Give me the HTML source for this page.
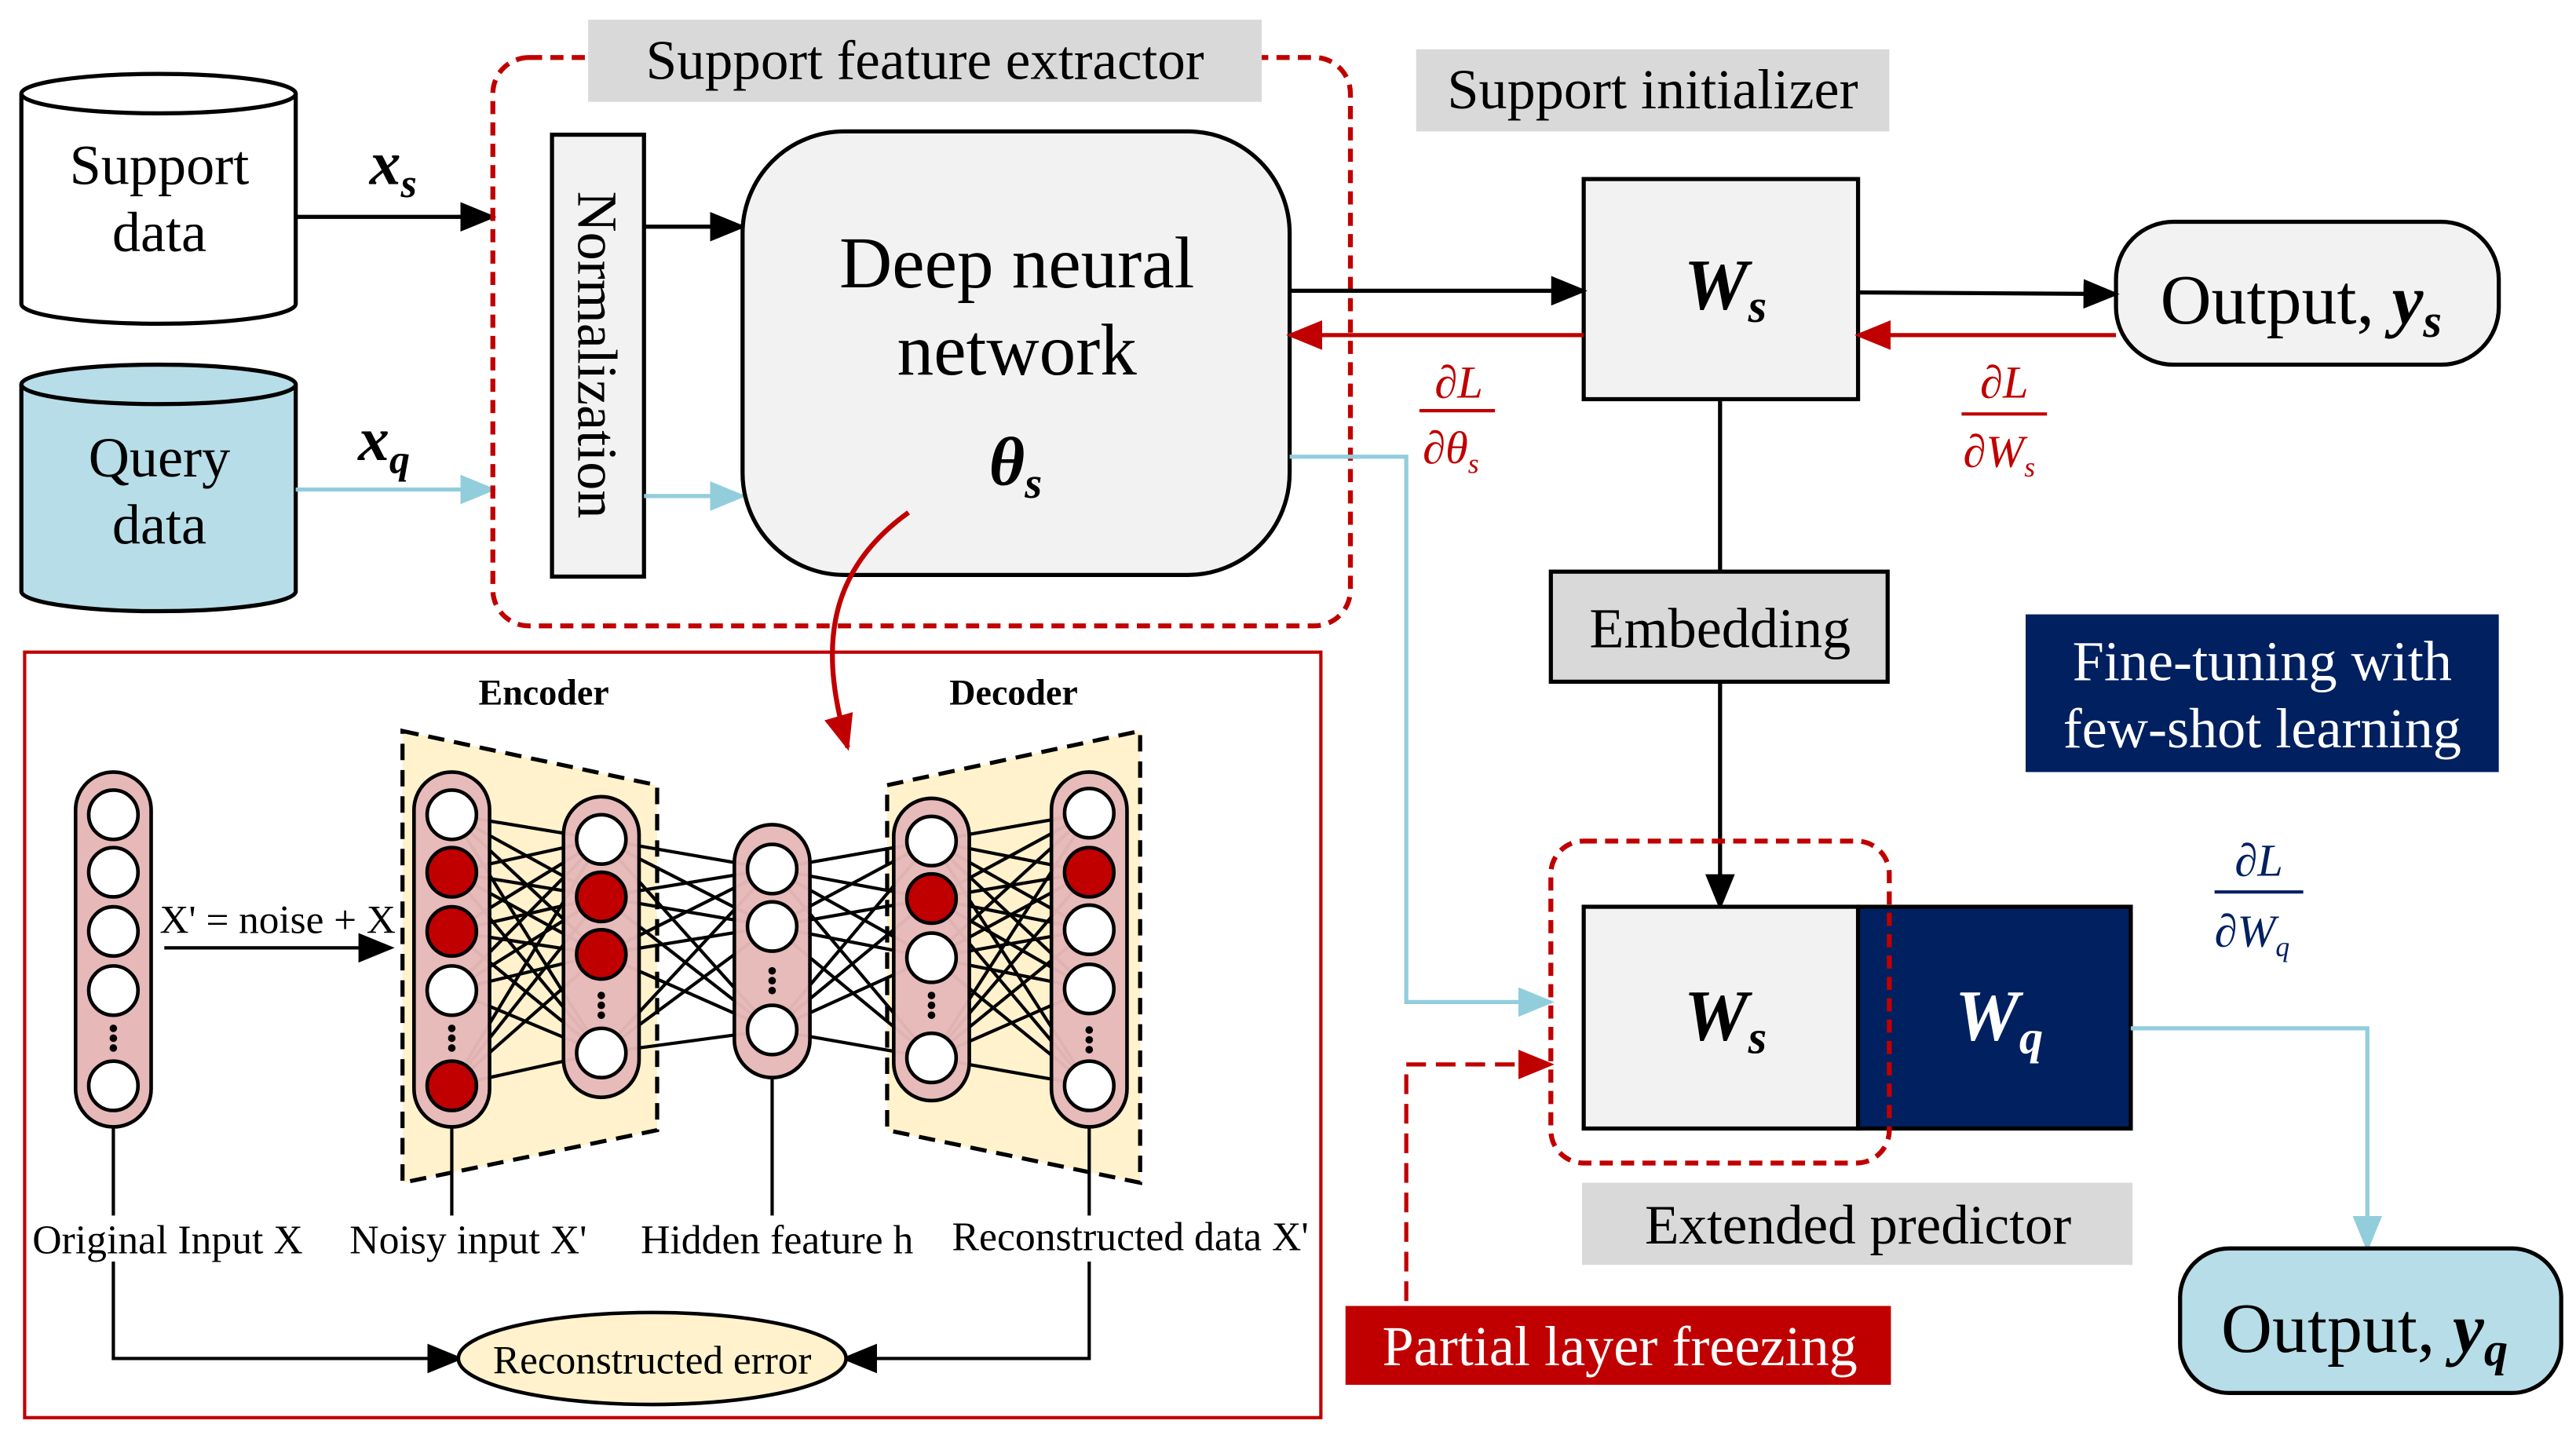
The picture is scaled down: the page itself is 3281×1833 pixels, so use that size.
<!DOCTYPE html>
<html><head><meta charset="utf-8"><style>
html,body{margin:0;padding:0;background:#fff;}
svg{display:block;}
text{font-family:"Liberation Serif","DejaVu Serif",serif;}
</style></head><body>
<svg width="3281" height="1833" viewBox="0 0 1568 876" xmlns="http://www.w3.org/2000/svg">
<defs>
<marker id="ar" viewBox="0 0 10 10" markerWidth="22" markerHeight="18" refX="9" refY="5" orient="auto" markerUnits="userSpaceOnUse" preserveAspectRatio="none"><path d="M0,0 L10,5 L0,10 z" fill="#c00000"/></marker>
<marker id="ak" viewBox="0 0 10 10" markerWidth="22" markerHeight="18" refX="9" refY="5" orient="auto" markerUnits="userSpaceOnUse" preserveAspectRatio="none"><path d="M0,0 L10,5 L0,10 z" fill="#000"/></marker>
<marker id="abl" viewBox="0 0 10 10" markerWidth="22" markerHeight="18" refX="9" refY="5" orient="auto" markerUnits="userSpaceOnUse" preserveAspectRatio="none"><path d="M0,0 L10,5 L0,10 z" fill="#92cddc"/></marker>
</defs>

<g stroke="#000" stroke-width="2.5">
<path d="M13,57 L13,185 A83,12 0 0 0 180,185 L180,57" fill="#fff"/>
<ellipse cx="96.5" cy="57" rx="83.5" ry="12" fill="#fff"/>
<path d="M13,234 L13,360 A83,12 0 0 0 180,360 L180,234" fill="#b7dde8"/>
<ellipse cx="96.5" cy="234" rx="83.5" ry="12" fill="#b7dde8"/>
</g>
<text x="97" y="112" font-size="34.5" text-anchor="middle">Support</text>
<text x="97" y="153" font-size="34.5" text-anchor="middle">data</text>
<text x="97" y="290" font-size="34.5" text-anchor="middle">Query</text>
<text x="97" y="331" font-size="34.5" text-anchor="middle">data</text>

<text x="225" y="112" font-size="38" font-style="italic" font-weight="bold">x<tspan font-size="25" dy="8">s</tspan></text>
<text x="218" y="280" font-size="38" font-style="italic" font-weight="bold">x<tspan font-size="25" dy="8">q</tspan></text>
<line x1="180" y1="132" x2="300" y2="132" stroke="#000" stroke-width="2.5" marker-end="url(#ak)"/>
<line x1="180" y1="298" x2="300" y2="298" stroke="#92cddc" stroke-width="2.5" marker-end="url(#abl)"/>

<rect x="300" y="35" width="522" height="346" rx="22" fill="none" stroke="#c00000" stroke-width="3" stroke-dasharray="8,5"/>
<rect x="358" y="12" width="410" height="50" fill="#d9d9d9"/>
<text x="563" y="48" font-size="34" text-anchor="middle">Support feature extractor</text>
<rect x="336" y="82" width="56" height="269" fill="#f2f2f2" stroke="#000" stroke-width="2.5"/>
<text transform="translate(352,216) rotate(90)" font-size="34.5" text-anchor="middle">Normalization</text>
<line x1="392" y1="138" x2="452" y2="138" stroke="#000" stroke-width="2.5" marker-end="url(#ak)"/>
<line x1="392" y1="302" x2="452" y2="302" stroke="#92cddc" stroke-width="2.5" marker-end="url(#abl)"/>
<rect x="452" y="80" width="333" height="270" rx="62" fill="#f2f2f2" stroke="#000" stroke-width="2.5"/>
<text x="619" y="175" font-size="44.5" text-anchor="middle">Deep neural</text>
<text x="619" y="228" font-size="44.5" text-anchor="middle">network</text>
<text x="602" y="295" font-size="42" font-style="italic" font-weight="bold">θ<tspan font-size="27" dy="8">s</tspan></text>

<rect x="862" y="30" width="288" height="50" fill="#d9d9d9"/>
<text x="1006" y="66" font-size="34.5" text-anchor="middle">Support initializer</text>
<rect x="964" y="109" width="167" height="134" fill="#f2f2f2" stroke="#000" stroke-width="2.5"/>
<text x="1025" y="188" font-size="44" font-style="italic" font-weight="bold">W<tspan font-size="29" dy="8">s</tspan></text>
<line x1="785" y1="177" x2="964" y2="177" stroke="#000" stroke-width="2.5" marker-end="url(#ak)"/>
<line x1="964" y1="204" x2="785" y2="204" stroke="#c00000" stroke-width="2.5" marker-end="url(#ar)"/>
<g fill="#c00000" font-style="italic" font-size="28">
<text x="888" y="242" text-anchor="middle">∂L</text>
<line x1="864" y1="250" x2="910" y2="250" stroke="#c00000" stroke-width="2"/>
<text x="866" y="282">∂θ<tspan font-size="17" dy="6">s</tspan></text>
<text x="1220" y="242" text-anchor="middle">∂L</text>
<line x1="1194" y1="252" x2="1246" y2="252" stroke="#c00000" stroke-width="2"/>
<text x="1195" y="284">∂W<tspan font-size="17" dy="6">s</tspan></text>
</g>
<rect x="1288" y="135" width="233" height="87" rx="35" fill="#f2f2f2" stroke="#000" stroke-width="2.5"/>
<text x="1315" y="197" font-size="43">Output, <tspan font-style="italic" font-weight="bold">y</tspan><tspan font-style="italic" font-weight="bold" font-size="29" dy="8">s</tspan></text>
<line x1="1131" y1="178" x2="1288" y2="179" stroke="#000" stroke-width="2.5" marker-end="url(#ak)"/>
<line x1="1288" y1="204" x2="1131" y2="204" stroke="#c00000" stroke-width="2.5" marker-end="url(#ar)"/>

<line x1="1047" y1="243" x2="1047" y2="348" stroke="#000" stroke-width="2.5"/>
<rect x="944" y="348" width="205" height="67" fill="#d9d9d9" stroke="#000" stroke-width="2.5"/>
<text x="1047" y="394" font-size="34.5" text-anchor="middle">Embedding</text>
<line x1="1047" y1="415" x2="1047" y2="552" stroke="#000" stroke-width="2.5" marker-end="url(#ak)"/>

<rect x="1233" y="374" width="288" height="96" fill="#002060"/>
<text x="1377" y="414" font-size="34.5" fill="#fff" text-anchor="middle">Fine-tuning with</text>
<text x="1377" y="455" font-size="34.5" fill="#fff" text-anchor="middle">few-shot learning</text>

<rect x="964" y="552" width="167" height="135" fill="#f2f2f2" stroke="#000" stroke-width="2.5"/>
<rect x="1131" y="552" width="166" height="135" fill="#002060" stroke="#000" stroke-width="2.5"/>
<text x="1025" y="633" font-size="44" font-style="italic" font-weight="bold">W<tspan font-size="29" dy="8">s</tspan></text>
<text x="1190" y="633" font-size="44" font-style="italic" font-weight="bold" fill="#fff">W<tspan font-size="29" dy="8">q</tspan></text>
<rect x="944" y="512" width="206" height="196" rx="20" fill="none" stroke="#c00000" stroke-width="3" stroke-dasharray="8,5"/>
<rect x="963" y="720" width="335" height="50" fill="#d9d9d9"/>
<text x="1131" y="757" font-size="34" text-anchor="middle">Extended predictor</text>
<polyline points="785,278 856,278 856,610 944,610" fill="none" stroke="#92cddc" stroke-width="2.5" marker-end="url(#abl)"/>
<polyline points="856,792 856,648 944,648" fill="none" stroke="#c00000" stroke-width="2.5" stroke-dasharray="12,6" marker-end="url(#ar)"/>
<rect x="819" y="795" width="332" height="48" fill="#c00000"/>
<text x="986" y="831" font-size="34.5" fill="#fff" text-anchor="middle">Partial layer freezing</text>
<g fill="#002060" font-style="italic" font-size="28">
<text x="1375" y="533" text-anchor="middle">∂L</text>
<line x1="1348" y1="543" x2="1402" y2="543" stroke="#002060" stroke-width="2"/>
<text x="1348" y="576">∂W<tspan font-size="17" dy="6">q</tspan></text>
</g>
<polyline points="1297,626 1441,626 1441,760" fill="none" stroke="#92cddc" stroke-width="2.5" marker-end="url(#abl)"/>
<rect x="1327" y="760" width="232" height="88" rx="30" fill="#b7dde8" stroke="#000" stroke-width="2.5"/>
<text x="1352" y="823" font-size="43">Output, <tspan font-style="italic" font-weight="bold">y</tspan><tspan font-style="italic" font-weight="bold" font-size="29" dy="8">q</tspan></text>

<path d="M553,312 C500,350 500,400 516,455" fill="none" stroke="#c00000" stroke-width="3" marker-end="url(#ar)"/>

<rect x="15" y="397" width="789" height="466" fill="none" stroke="#c00000" stroke-width="2"/>
<text x="331" y="429" font-size="22" font-weight="bold" text-anchor="middle">Encoder</text>
<text x="617" y="429" font-size="22" font-weight="bold" text-anchor="middle">Decoder</text>
<polygon points="245,445 400,478 400,688 245,720" fill="#fff2cc" stroke="#000" stroke-width="2.5" stroke-dasharray="10,6"/>
<polygon points="540,478 694,445 694,720 540,688" fill="#fff2cc" stroke="#000" stroke-width="2.5" stroke-dasharray="10,6"/>

<g stroke="#000" stroke-width="2">
<line x1="275" y1="496" x2="366" y2="511"/><line x1="275" y1="496" x2="366" y2="546"/><line x1="275" y1="496" x2="366" y2="581"/><line x1="275" y1="496" x2="366" y2="641"/>
<line x1="275" y1="531" x2="366" y2="511"/><line x1="275" y1="531" x2="366" y2="546"/><line x1="275" y1="531" x2="366" y2="581"/><line x1="275" y1="531" x2="366" y2="641"/>
<line x1="275" y1="567" x2="366" y2="511"/><line x1="275" y1="567" x2="366" y2="546"/><line x1="275" y1="567" x2="366" y2="581"/><line x1="275" y1="567" x2="366" y2="641"/>
<line x1="275" y1="603" x2="366" y2="511"/><line x1="275" y1="603" x2="366" y2="546"/><line x1="275" y1="603" x2="366" y2="581"/><line x1="275" y1="603" x2="366" y2="641"/>
<line x1="275" y1="661" x2="366" y2="511"/><line x1="275" y1="661" x2="366" y2="546"/><line x1="275" y1="661" x2="366" y2="581"/><line x1="275" y1="661" x2="366" y2="641"/>
<line x1="366" y1="511" x2="470" y2="529"/><line x1="366" y1="511" x2="470" y2="564"/><line x1="366" y1="511" x2="470" y2="627"/>
<line x1="366" y1="546" x2="470" y2="529"/><line x1="366" y1="546" x2="470" y2="564"/><line x1="366" y1="546" x2="470" y2="627"/>
<line x1="366" y1="581" x2="470" y2="529"/><line x1="366" y1="581" x2="470" y2="564"/><line x1="366" y1="581" x2="470" y2="627"/>
<line x1="366" y1="641" x2="470" y2="529"/><line x1="366" y1="641" x2="470" y2="564"/><line x1="366" y1="641" x2="470" y2="627"/>
<line x1="470" y1="529" x2="567" y2="512"/><line x1="470" y1="529" x2="567" y2="547"/><line x1="470" y1="529" x2="567" y2="583"/><line x1="470" y1="529" x2="567" y2="644"/>
<line x1="470" y1="564" x2="567" y2="512"/><line x1="470" y1="564" x2="567" y2="547"/><line x1="470" y1="564" x2="567" y2="583"/><line x1="470" y1="564" x2="567" y2="644"/>
<line x1="470" y1="627" x2="567" y2="512"/><line x1="470" y1="627" x2="567" y2="547"/><line x1="470" y1="627" x2="567" y2="583"/><line x1="470" y1="627" x2="567" y2="644"/>
<line x1="567" y1="512" x2="663" y2="495"/><line x1="567" y1="512" x2="663" y2="531"/><line x1="567" y1="512" x2="663" y2="566"/><line x1="567" y1="512" x2="663" y2="602"/><line x1="567" y1="512" x2="663" y2="661"/>
<line x1="567" y1="547" x2="663" y2="495"/><line x1="567" y1="547" x2="663" y2="531"/><line x1="567" y1="547" x2="663" y2="566"/><line x1="567" y1="547" x2="663" y2="602"/><line x1="567" y1="547" x2="663" y2="661"/>
<line x1="567" y1="583" x2="663" y2="495"/><line x1="567" y1="583" x2="663" y2="531"/><line x1="567" y1="583" x2="663" y2="566"/><line x1="567" y1="583" x2="663" y2="602"/><line x1="567" y1="583" x2="663" y2="661"/>
<line x1="567" y1="644" x2="663" y2="495"/><line x1="567" y1="644" x2="663" y2="531"/><line x1="567" y1="644" x2="663" y2="566"/><line x1="567" y1="644" x2="663" y2="602"/><line x1="567" y1="644" x2="663" y2="661"/>
</g>

<g stroke="#000" stroke-width="2.2">
<rect x="46" y="470" width="46" height="216" rx="23" fill="#e6b9b8"/>
<rect x="252" y="470" width="46" height="216" rx="23" fill="#e6b9b8" fill-opacity="0.97"/>
<rect x="343" y="485" width="46" height="183" rx="23" fill="#e6b9b8" fill-opacity="0.97"/>
<rect x="447" y="502" width="46" height="154" rx="23" fill="#e6b9b8" fill-opacity="0.97"/>
<rect x="544" y="486" width="46" height="184" rx="23" fill="#e6b9b8" fill-opacity="0.97"/>
<rect x="640" y="470" width="46" height="216" rx="23" fill="#e6b9b8" fill-opacity="0.97"/>
</g>
<g stroke="#000" stroke-width="2.2" fill="#fff">
<circle cx="69" cy="496" r="15"/><circle cx="69" cy="531" r="15"/><circle cx="69" cy="567" r="15"/><circle cx="69" cy="603" r="15"/><circle cx="69" cy="661" r="15"/>
<circle cx="275" cy="496" r="15"/><circle cx="275" cy="531" r="15" fill="#c00000"/><circle cx="275" cy="567" r="15" fill="#c00000"/><circle cx="275" cy="603" r="15"/><circle cx="275" cy="661" r="15" fill="#c00000"/>
<circle cx="366" cy="511" r="15"/><circle cx="366" cy="546" r="15" fill="#c00000"/><circle cx="366" cy="581" r="15" fill="#c00000"/><circle cx="366" cy="641" r="15"/>
<circle cx="470" cy="529" r="15"/><circle cx="470" cy="564" r="15"/><circle cx="470" cy="627" r="15"/>
<circle cx="567" cy="512" r="15"/><circle cx="567" cy="547" r="15" fill="#c00000"/><circle cx="567" cy="583" r="15"/><circle cx="567" cy="644" r="15"/>
<circle cx="663" cy="495" r="15"/><circle cx="663" cy="531" r="15" fill="#c00000"/><circle cx="663" cy="566" r="15"/><circle cx="663" cy="602" r="15"/><circle cx="663" cy="661" r="15"/>
</g>
<g fill="#000">
<circle cx="69" cy="626" r="2.3"/><circle cx="69" cy="632" r="2.3"/><circle cx="69" cy="638" r="2.3"/>
<circle cx="275" cy="626" r="2.3"/><circle cx="275" cy="632" r="2.3"/><circle cx="275" cy="638" r="2.3"/>
<circle cx="366" cy="606" r="2.3"/><circle cx="366" cy="612" r="2.3"/><circle cx="366" cy="618" r="2.3"/>
<circle cx="470" cy="591" r="2.3"/><circle cx="470" cy="597" r="2.3"/><circle cx="470" cy="603" r="2.3"/>
<circle cx="567" cy="606" r="2.3"/><circle cx="567" cy="612" r="2.3"/><circle cx="567" cy="618" r="2.3"/>
<circle cx="663" cy="627" r="2.3"/><circle cx="663" cy="633" r="2.3"/><circle cx="663" cy="639" r="2.3"/>
</g>

<text x="169" y="568" font-size="24.5" text-anchor="middle">X' = noise + X</text>
<line x1="100" y1="577" x2="238" y2="577" stroke="#000" stroke-width="2" marker-end="url(#ak)"/>

<g stroke="#000" stroke-width="2" fill="none">
<line x1="69" y1="686" x2="69" y2="740"/><line x1="275" y1="686" x2="275" y2="740"/>
<line x1="470" y1="656" x2="470" y2="740"/><line x1="663" y1="686" x2="663" y2="740"/>
<polyline points="69,768 69,827 280,827" marker-end="url(#ak)"/>
<polyline points="663,768 663,827 514,827" marker-end="url(#ak)"/>
</g>
<g font-size="24.7" text-anchor="middle">
<text x="102" y="763">Original Input X</text>
<text x="285" y="763">Noisy input X'</text>
<text x="473" y="763">Hidden feature h</text>
<text x="688" y="761">Reconstructed data X'</text>
</g>
<ellipse cx="397" cy="827" rx="118" ry="28" fill="#fff2cc" stroke="#000" stroke-width="2.2"/>
<text x="397" y="836" font-size="24.5" text-anchor="middle">Reconstructed error</text>
</svg>
</body></html>
